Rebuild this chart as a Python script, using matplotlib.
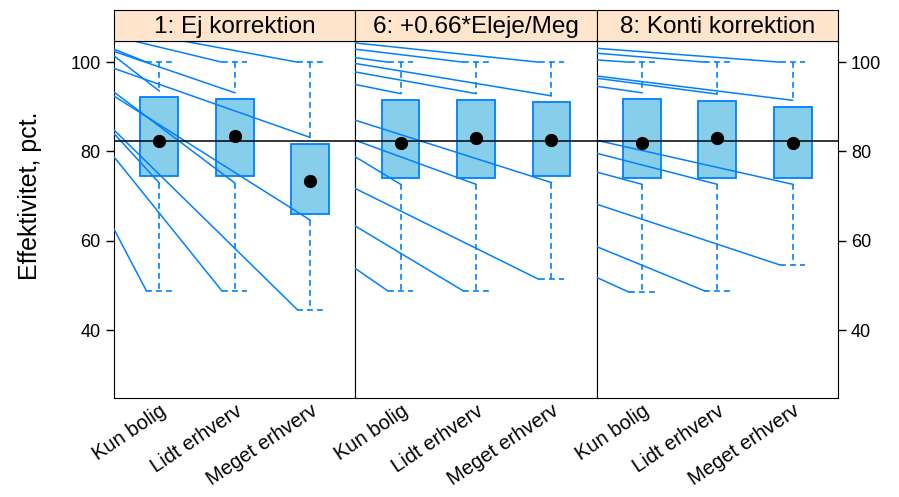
import numpy as np
import matplotlib.pyplot as plt
import matplotlib.transforms as mtransforms
from matplotlib.patches import Rectangle

plt.rcParams['font.family'] = ['Liberation Sans', 'DejaVu Sans']

# ---- data ------------------------------------------------------------------
panels = ['1: Ej korrektion', '6: +0.66*Eleje/Meg', '8: Konti korrektion']
groups = ['Kun bolig', 'Lidt erhverv', 'Meget erhverv']

box_hi = [[92.1, 91.7, 81.7], [91.5, 91.5, 91.0], [91.7, 91.4, 90.0]]
box_lo = [[74.4, 74.4, 66.1], [74.1, 74.1, 74.5], [74.1, 74.1, 74.1]]
medians = [[82.3, 83.4, 73.3], [81.8, 83.1, 82.5], [81.8, 83.1, 81.9]]
whisk_hi = [[100, 100, 100], [100, 100, 100], [100, 100, 100]]
whisk_lo = [[48.8, 48.8, 44.6], [48.8, 48.8, 51.4], [48.5, 48.8, 54.6]]
ref_level = 82.3

# stray whisker lines: value where each one crosses the panel's left edge
lead_cap_hi = [[102.9, 105.8, 107.6], [101.0, 102.9, 104.3], [100.5, 102.0, 103.1]]
lead_inner_hi = [[101.4, 102.4, 98.6], [95.0, 97.8, 99.7], [94.6, 96.4, 96.9]]
lead_inner_lo = [[84.0, 93.3, 92.4], [78.8, 82.5, 87.0], [75.4, 79.6, 82.5]]
lead_cap_lo = [[62.6, 78.8, 84.8], [53.8, 63.3, 71.7], [51.8, 58.7, 68.2]]

# ---- style -----------------------------------------------------------------
blue = '#0080ff'
fill = '#87CEEB'
strip_col = '#FFE5CC'
W, H = 899, 497
x0_px, panel_w = 114, 241.3
top_px, bot_px, strip_top = 40.7, 398, 10
xlim = (0.4, 3.6)
ylim = (24.8, 104.8)
box_w = 0.5
cap_w = 0.17
gap = 1.45

fig = plt.figure(figsize=(W / 100, H / 100), dpi=100)
shift = mtransforms.ScaledTranslation(4 / 72, 0, fig.dpi_scale_trans)

for p in range(3):
    left = (x0_px + p * panel_w) / W
    ax = fig.add_axes([left, (H - bot_px) / H, panel_w / W, (bot_px - top_px) / H])
    sax = fig.add_axes([left, (H - top_px) / H, panel_w / W, (top_px - strip_top) / H])
    sax.set_facecolor(strip_col)
    sax.set_xticks([])
    sax.set_yticks([])
    sax.text(0.5, 0.45, panels[p], ha='center', va='center', fontsize=17.5,
             transform=sax.transAxes)

    ax.set_xlim(*xlim)
    ax.set_ylim(*ylim)
    pos = np.arange(1, 4)

    for i, c in enumerate(pos):
        hi, lo = box_hi[p][i], box_lo[p][i]
        ax.add_patch(Rectangle((c - box_w / 2, lo), box_w, hi - lo,
                               facecolor=fill, edgecolor=blue, lw=1.3, zorder=2))
        dash = dict(color=blue, lw=1.2, dashes=(3.5, 2.5), zorder=3)
        ax.plot([c, c], [whisk_hi[p][i], hi + gap], **dash)
        ax.plot([c, c], [lo - gap, whisk_lo[p][i]], **dash)
        ax.plot([c - cap_w, c + cap_w], [whisk_hi[p][i]] * 2, **dash)
        ax.plot([c - cap_w, c + cap_w], [whisk_lo[p][i]] * 2, **dash)

        solid = dict(color=blue, lw=1.1, zorder=4)
        ax.plot([xlim[0], c - cap_w], [lead_cap_hi[p][i], whisk_hi[p][i]], **solid)
        ax.plot([xlim[0], c], [lead_inner_hi[p][i], hi + gap], **solid)
        ax.plot([xlim[0], c], [lead_inner_lo[p][i], lo - gap], **solid)
        ax.plot([xlim[0], c - cap_w], [lead_cap_lo[p][i], whisk_lo[p][i]], **solid)

    ax.axhline(ref_level, color='black', lw=1.1, zorder=5)
    ax.plot(pos, medians[p], 'o', color='black', ms=8.5, zorder=6)

    ax.set_xticks(pos)
    ax.set_xticklabels(groups, rotation=34, ha='right', va='center',
                       rotation_mode='anchor', fontsize=14.5)
    ax.tick_params(axis='x', length=0, pad=8)
    for lab in ax.get_xticklabels():
        lab.set_transform(lab.get_transform() + shift)

    yt = [40, 60, 80, 100]
    if p == 0:
        ax.set_yticks(yt)
        ax.tick_params(axis='y', direction='out', length=6, width=1, labelsize=13)
    elif p == 2:
        ax.set_yticks(yt)
        ax.yaxis.tick_right()
        ax.tick_params(axis='y', direction='out', length=6, width=1, labelsize=13)
    else:
        ax.set_yticks([])

fig.text(30 / W, 1 - 196 / H, 'Effektivitet, pct.', rotation=90,
         ha='center', va='center', fontsize=18)

fig.savefig('out.png', dpi=100)
